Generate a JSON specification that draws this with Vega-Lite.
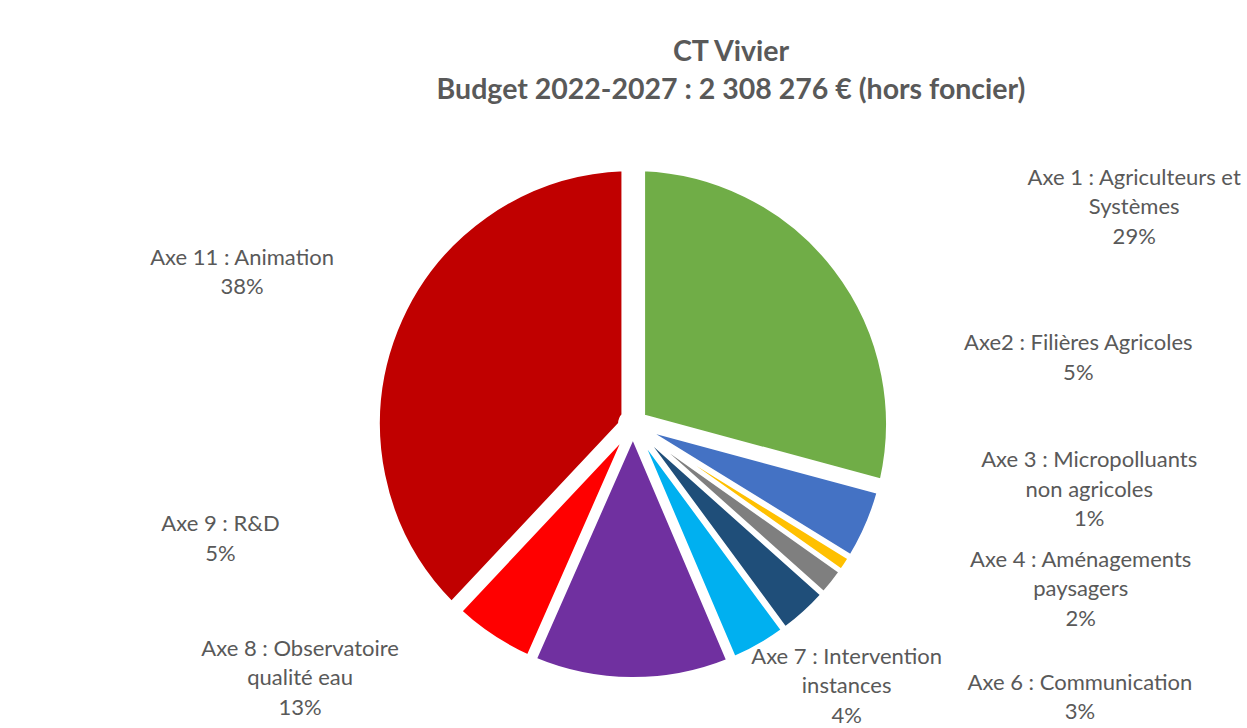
{
  "$schema": "https://vega.github.io/schema/vega-lite/v6.json",
  "width": 1224,
  "height": 606,
  "autosize": "none",
  "padding": {"left": 21, "top": 121, "right": 2, "bottom": 1},
  "background": "white",
  "view": {"stroke": null},
  "title": {
    "text": ["CT Vivier", "Budget 2022-2027 : 2 308 276 € (hors foncier)"],
    "font": "Lato",
    "fontSize": 28.5,
    "fontWeight": "bold",
    "color": "#595959",
    "lineHeight": 38,
    "anchor": "middle",
    "dx": 98,
    "offset": 17
  },
  "data": {
    "values": [
      {"n": 1, "label": "Axe 1 : Agriculteurs et\nSystèmes\n29%", "value": 29.2},
      {"n": 2, "label": "Axe2 : Filières Agricoles\n5%", "value": 4.6},
      {"n": 3, "label": "Axe 3 : Micropolluants\nnon agricoles\n1%", "value": 1.0},
      {"n": 4, "label": "Axe 4 : Aménagements\npaysagers\n2%", "value": 1.8},
      {"n": 6, "label": "Axe 6 : Communication\n3%", "value": 3.3},
      {"n": 7, "label": "Axe 7 : Intervention\ninstances\n4%", "value": 3.7},
      {"n": 8, "label": "Axe 8 : Observatoire\nqualité eau\n13%", "value": 13.0},
      {"n": 9, "label": "Axe 9 : R&D\n5%", "value": 5.4},
      {"n": 11, "label": "Axe 11 : Animation\n38%", "value": 38.0}
    ]
  },
  "encoding": {
    "theta": {"field": "value", "type": "quantitative", "stack": true},
    "order": {"field": "n", "type": "quantitative", "sort": "ascending"}
  },
  "layer": [
    {
      "mark": {
        "type": "arc",
        "outerRadius": 255,
        "innerRadius": 13,
        "stroke": "white",
        "strokeWidth": 4,
        "padAngle": {"expr": "datum.n==1?0.079:datum.n==11?0.075:datum.n==8?0.038:datum.n==9?0.016:datum.n==2?0.013:datum.n==7?0.011:datum.n==6?0.0095:datum.n==4?0.0055:0.003"}
      },
      "encoding": {
        "color": {
          "field": "n",
          "type": "nominal",
          "scale": {
            "domain": [1, 2, 3, 4, 6, 7, 8, 9, 11],
            "range": ["#70AD47", "#4472C4", "#FFC000", "#7F7F7F", "#1F4E79", "#00B0F0", "#7030A0", "#FF0000", "#C00000"]
          },
          "legend": null
        }
      }
    },
    {
      "mark": {
        "type": "text",
        "radius": 300,
        "font": "Lato",
        "fontSize": 22,
        "fill": "#595959",
        "lineBreak": "\n",
        "lineHeight": 29.5,
        "align": "center",
        "baseline": "middle",
        "dx": {"expr": "datum.n==1?263:datum.n==2?170:datum.n==3?206:datum.n==4?213:datum.n==6?245:datum.n==7?65:datum.n==8?-331:datum.n==9?-247:-112"},
        "dy": {"expr": "datum.n==1?-64:datum.n==2?-200:datum.n==3?-129:datum.n==4?-51:datum.n==6?37:datum.n==7?-28:datum.n==8?-75:datum.n==9?-150:-56"}
      },
      "encoding": {"text": {"field": "label"}}
    }
  ]
}
